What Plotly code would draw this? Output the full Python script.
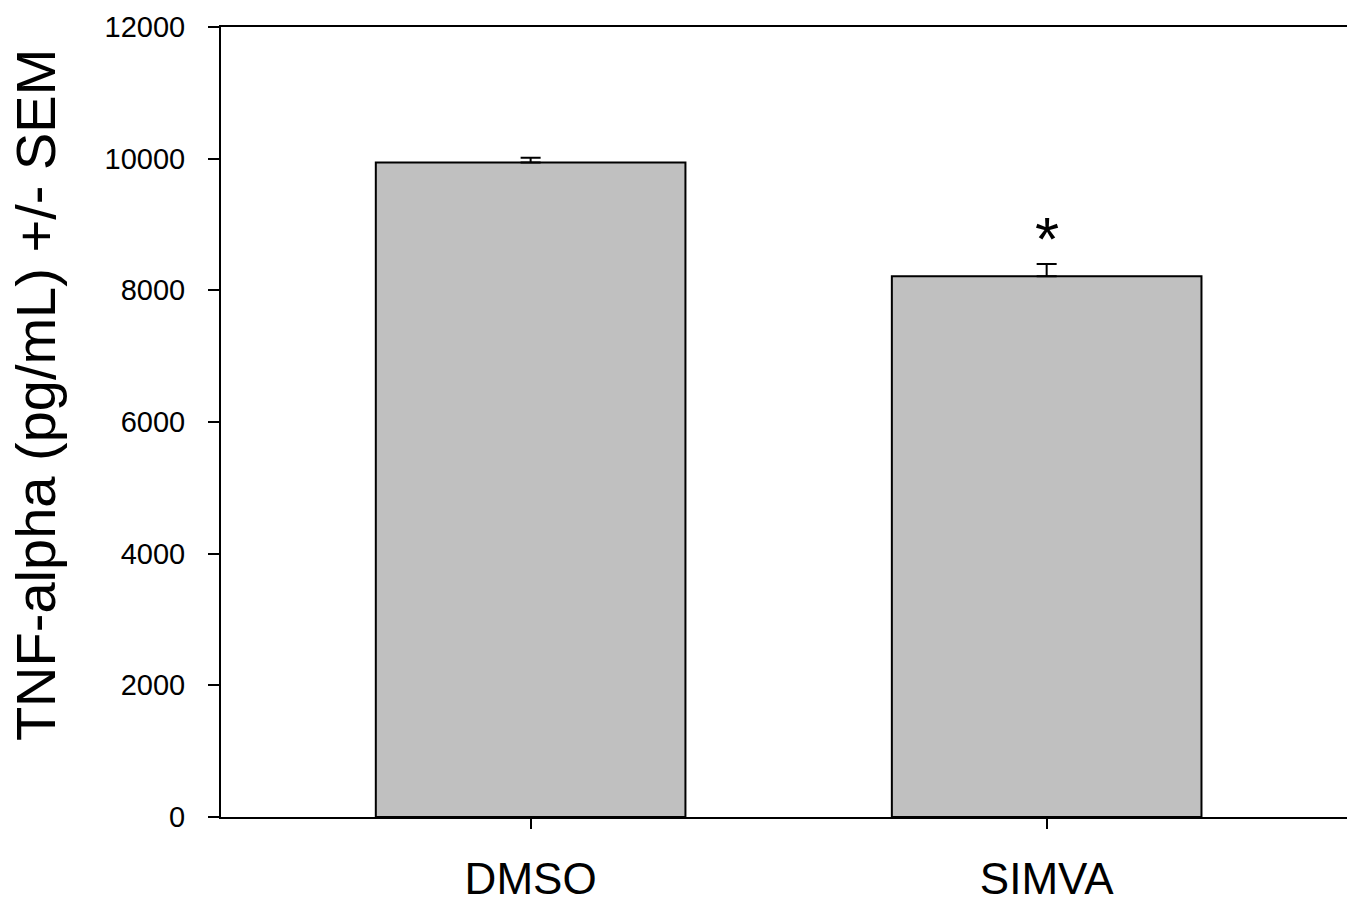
import plotly.graph_objects as go

categories = ["DMSO", "SIMVA"]
means = [9940, 8215]
sem = [75, 185]
y_ticks = [0, 2000, 4000, 6000, 8000, 10000, 12000]
sig_marks = ["", "*"]
sig_y = [None, 8790]

FONT = "Liberation Sans, Arial, sans-serif"

W, H = 1347, 903
L, T, PW, PH = 221, 27, 1126, 793

fig = go.Figure()
fig.add_trace(go.Bar(
    x=categories, y=means,
    width=0.6,
    marker=dict(color="#c0c0c0", line=dict(color="black", width=2)),
    error_y=dict(type="data", array=sem, symmetric=False, arrayminus=[0, 0],
                 color="black", thickness=2, width=10),
    showlegend=False,
))

for c, m, yy in zip(categories, sig_marks, sig_y):
    if m:
        fig.add_annotation(x=c, y=yy, text=m, showarrow=False,
                           font=dict(family=FONT, size=62, color="black"),
                           xanchor="center", yanchor="middle")

fig.add_annotation(xref="paper", yref="paper",
                   x=(35 - L) / PW, y=(T + PH - 396.5) / PH,
                   text="TNF-alpha (pg/mL) +/- SEM", textangle=-90,
                   showarrow=False, xanchor="center", yanchor="middle",
                   font=dict(family=FONT, size=56, color="black"))

fig.update_layout(
    width=W, height=H,
    margin=dict(l=L, r=W - L - PW, t=T, b=H - T - PH),
    paper_bgcolor="white", plot_bgcolor="white",
    font=dict(family=FONT, color="black"),
    bargap=0.4,
)
fig.update_xaxes(
    range=[-0.6, 1.582], showline=True, linecolor="black", linewidth=2,
    mirror=True, ticks="outside", ticklen=10, tickwidth=2, tickcolor="black",
    tickfont=dict(family=FONT, size=44, color="black"), showgrid=False,
    ticklabelstandoff=12,
)
fig.update_yaxes(
    range=[0, 12000], tickvals=y_ticks, ticktext=[str(v) for v in y_ticks],
    showline=True, linecolor="black", linewidth=2, ticks="outside",
    ticklen=11, tickwidth=2, tickcolor="black",
    tickfont=dict(family=FONT, size=29, color="black"), showgrid=False,
    zeroline=False, ticklabelstandoff=17,
)

# remove the default 8px page margin so the figure sits at the window origin
fig.write_html("out.html",
               config={"displayModeBar": False},
               post_script="document.body.style.margin='0';document.body.style.overflow='hidden';")
